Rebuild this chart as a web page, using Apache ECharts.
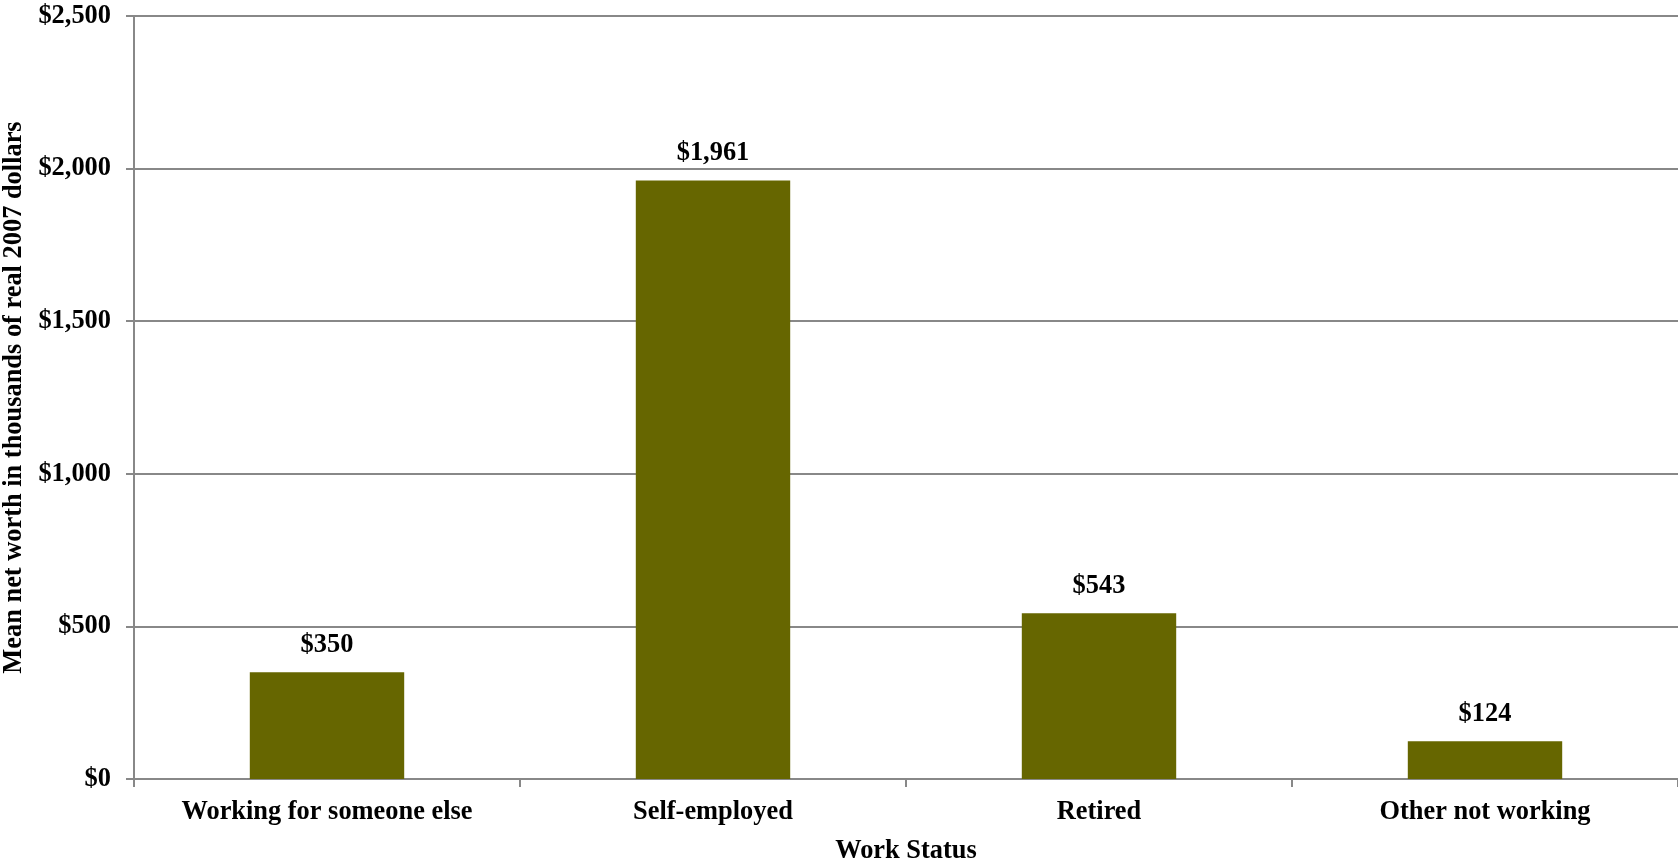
<!DOCTYPE html>
<html>
<head>
<meta charset="utf-8">
<script src="https://cdn.jsdelivr.net/npm/echarts@6/dist/echarts.min.js"></script>
<style>
html,body{margin:0;padding:0;background:#fff;}
#chart{width:1678px;height:865px;}
</style>
</head>
<body>
<div id="chart"></div>
<script>
const categories = ["Working for someone else", "Self-employed", "Retired", "Other not working"];
const netWorth = [350, 1961, 543, 124];
const yTicks = { min: 0, max: 2500, interval: 500 };

const FONT = "'Liberation Serif', 'Times New Roman', serif";
const FS = 26.4;
const chart = echarts.init(document.getElementById('chart'), null, { renderer: 'canvas' });
chart.setOption({
  animation: false,
  backgroundColor: '#ffffff',
  grid: { left: 134, right: 0, top: 16, bottom: 86, containLabel: false, outerBoundsMode: 'none' },
  xAxis: {
    type: 'category',
    data: categories,
    name: 'Work Status',
    nameLocation: 'middle',
    nameGap: 59,
    nameTextStyle: { fontFamily: FONT, fontWeight: 'bold', fontSize: FS, color: '#000' },
    axisLine: { lineStyle: { color: '#888888', width: 2 } },
    axisTick: { show: true, alignWithLabel: false, length: 8, lineStyle: { color: '#888888', width: 2 } },
    axisLabel: { fontFamily: FONT, fontWeight: 'bold', fontSize: FS, color: '#000', margin: 20, interval: 0 },
    splitLine: { show: false }
  },
  yAxis: {
    type: 'value',
    min: yTicks.min, max: yTicks.max, interval: yTicks.interval,
    name: 'Mean net worth in thousands of real 2007 dollars',
    nameLocation: 'middle',
    nameGap: 104,
    nameRotate: 90,
    nameTextStyle: { fontFamily: FONT, fontWeight: 'bold', fontSize: FS, color: '#000' },
    axisLine: { show: true, lineStyle: { color: '#888888', width: 2 } },
    axisTick: { show: true, length: 8, lineStyle: { color: '#888888', width: 2 } },
    axisLabel: {
      fontFamily: FONT, fontWeight: 'bold', fontSize: FS, color: '#000', margin: 23,
      formatter: v => '$' + v.toLocaleString('en-US')
    },
    splitLine: { show: true, lineStyle: { color: '#888888', width: 2 } }
  },
  series: [{
    type: 'bar',
    data: netWorth,
    barWidth: '40%',
    itemStyle: { color: '#666600' },
    label: {
      show: true, position: 'top', distance: 14,
      fontFamily: FONT, fontWeight: 'bold', fontSize: FS, color: '#000',
      formatter: p => '$' + p.value.toLocaleString('en-US')
    }
  }]
});
</script>
</body>
</html>
